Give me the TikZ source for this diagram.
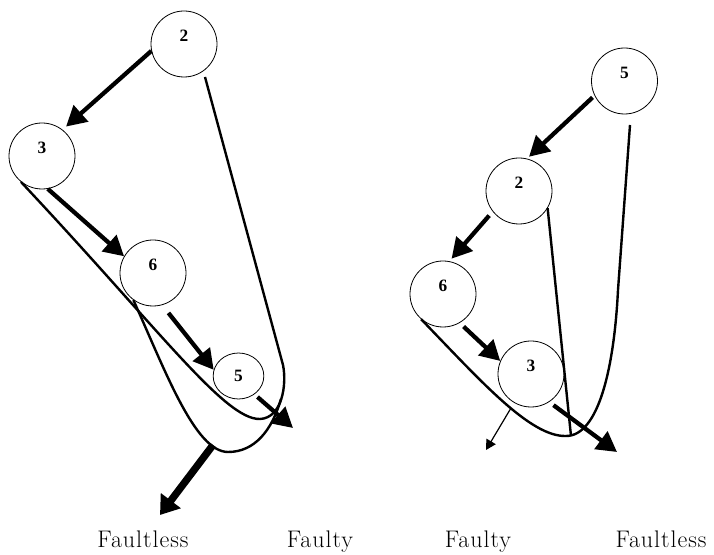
\documentclass[tikz,border=0pt]{standalone}
\usepackage{fontspec}
\newfontfamily\digitfont{Liberation Serif}
\newfontfamily\verdictfont[LetterSpace=4]{Latin Modern Roman}
\usetikzlibrary{shapes.geometric, arrows.meta}
\tikzstyle{vertex} = [circle, minimum size=49.5pt, inner sep=0pt, draw=black, line width=0.6pt]
\tikzstyle{leaf} = [ellipse, minimum width=38pt, minimum height=34.5pt, inner sep=0pt, draw=black, line width=0.6pt]
\tikzstyle{digit} = [font=\digitfont\bfseries\fontsize{13}{15}\selectfont]
\tikzstyle{numtop} = [digit, yshift=6pt]
\tikzstyle{verdict} = [anchor=base, inner sep=0pt, font=\verdictfont\fontsize{18}{22}\selectfont]
\tikzstyle{branch} = [line width=1.8pt]
\tikzstyle{arrow} = [line width=3.2pt, -{Triangle[length=15pt,width=16pt]}]
\tikzstyle{bigarrow} = [line width=5.5pt, -{Triangle[length=13.5pt,width=18pt]}]
\tikzstyle{thinarrow} = [line width=0.9pt, -{Triangle[length=7.5pt,width=8pt]}]

\begin{document}
\begin{tikzpicture}[x=0.75pt, y=-0.75pt]
\useasboundingbox (0,0) rectangle (714,555);

%% NODES

\node (l2) [vertex, label={[numtop]center:2}] at (184,44) {};
\node (l3) [vertex, label={[numtop]center:3}] at (42,156) {};
\node (l6) [vertex, label={[numtop]center:6}] at (153,273) {};
\node (l5) [leaf, digit] at (238.5,376) {5};

\node (r5) [vertex, label={[numtop]center:5}] at (624.5,81) {};
\node (r2) [vertex, label={[numtop]center:2}] at (519,191) {};
\node (r6) [vertex, label={[numtop]center:6}] at (443,294) {};
\node (r3) [vertex, label={[numtop]center:3}] at (531,374) {};

\node (f1) [verdict] at (143,547) {Faultless};
\node (f2) [verdict] at (320,547) {Faulty};
\node (f3) [verdict] at (478,547) {Faulty};
\node (f4) [verdict] at (661,547) {Faultless};

\coordinate (ltop) at (205,77);
\coordinate (lfork) at (213,445);
\coordinate (lout1) at (293,428);
\coordinate (lout2) at (160,515);
\coordinate (rtop) at (630,125);
\coordinate (rbot) at (571,436);
\coordinate (rfork) at (511,408);
\coordinate (rout1) at (617,452);
\coordinate (rout2) at (486,450);

%% BRANCHES

\draw [branch] (l3.231) .. controls (160,330) and (225,420) .. (260,419) .. controls (282,418) and (287,385) .. (283,365) -- (ltop);
\draw [branch] (l6.234) .. controls (165,370) and (195,452) .. (228,452) .. controls (255,452) and (272,430) .. (281,399);
\draw [branch] (r6.229) .. controls (480,380) and (530,437) .. (566,436) .. controls (598,436) and (614,370) .. (618,290) -- (rtop);
\draw [branch] (r2.329) -- (rbot);

%% ARROWS

\draw [arrow, shorten >=3.5pt] (l2.192) -- (l3.52);
\draw [arrow] (l3.280) -- (l6.150);
\draw [arrow, shorten <=7.5pt] (l6.286) -- (l5.166);
\draw [arrow, shorten <=3pt] (l5.311) -- (lout1);
\draw [bigarrow] (lfork) -- (lout2);
\draw [arrow, shorten <=2pt, shorten >=2pt] (r5.206) -- (r2.76);
\draw [arrow, shorten <=4pt, shorten >=2.5pt] (r2.218) -- (r6.79);
\draw [arrow, shorten <=4pt] (r6.300) -- (r3.157);
\draw [arrow, shorten <=4pt] (r3.303) -- (rout1);
\draw [thinarrow] (rfork) -- (rout2);

\end{tikzpicture}
\end{document}
